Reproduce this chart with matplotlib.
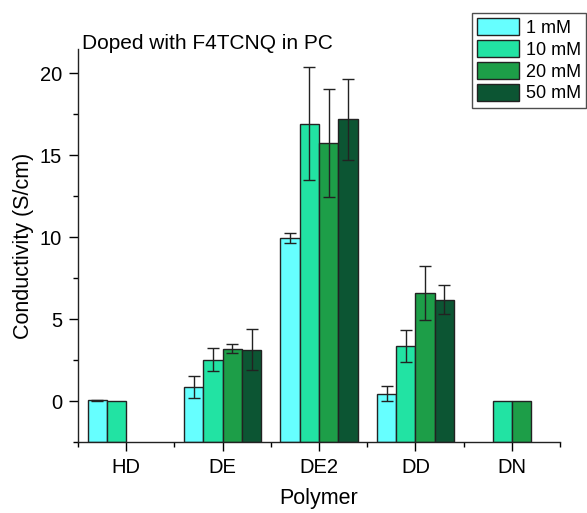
import numpy as np
import matplotlib
matplotlib.use('Agg')
import matplotlib.pyplot as plt
from matplotlib.ticker import MultipleLocator

plt.rcParams['font.family'] = ['Liberation Sans', 'DejaVu Sans']

polymers = ['HD', 'DE', 'DE2', 'DD', 'DN']
series = ['1 mM', '10 mM', '20 mM', '50 mM']

# conductivity (S/cm), nan = not measured
vals_1 = [0.05, 0.87, 9.96, 0.47, np.nan]
vals_10 = [0.0, 2.54, 16.93, 3.37, 0.0]
vals_20 = [np.nan, 3.21, 15.75, 6.60, 0.0]
vals_50 = [np.nan, 3.15, 17.20, 6.20, np.nan]

err_1 = [0.02, 0.66, 0.30, 0.46, 0]
err_10 = [0, 0.71, 3.45, 0.95, 0]
err_20 = [0, 0.28, 3.27, 1.62, 0]
err_50 = [0, 1.25, 2.47, 0.91, 0]

colors = ['#66ffff', '#22e3a3', '#1d9e48', '#0c5533']

ymin, ymax = -2.5, 21.5

fig = plt.figure(figsize=(5.87, 5.13), dpi=100)
ax = fig.add_axes([0.133, 0.138, 0.821, 0.767])

x = np.arange(len(polymers))
w = 0.2
all_vals = [vals_1, vals_10, vals_20, vals_50]
all_errs = [err_1, err_10, err_20, err_50]
handles = []
for i, (v, e, c, lab) in enumerate(zip(all_vals, all_errs, colors, series)):
    v = np.array(v, dtype=float)
    e = np.array(e, dtype=float)
    pos = x + (i - 1.5) * w
    ok = ~np.isnan(v)
    # bars start at the bottom of the axis, like the original
    b = ax.bar(pos[ok], v[ok] - ymin, bottom=ymin, width=w, color=c,
               edgecolor='#222222', linewidth=1, label=lab, zorder=2)
    handles.append(b)
    has_err = ok & (e > 0)
    ax.errorbar(pos[has_err], v[has_err], yerr=e[has_err], fmt='none',
                ecolor='#222222', elinewidth=1, capsize=4, capthick=1, zorder=3)

ax.set_xlim(-0.5, 4.5)
ax.set_ylim(ymin, ymax)
ax.set_xticks(x)
ax.set_xticklabels(polymers)
ax.xaxis.set_minor_locator(MultipleLocator(1, offset=0.5))
ax.set_yticks([0, 5, 10, 15, 20])
ax.yaxis.set_minor_locator(MultipleLocator(2.5))

for s in ['top', 'right']:
    ax.spines[s].set_visible(False)
for s in ['left', 'bottom']:
    ax.spines[s].set_linewidth(1)
    ax.spines[s].set_color('#222222')

ax.tick_params(which='major', direction='out', length=6.5, width=1, labelsize=14.5, pad=5)
ax.tick_params(which='minor', direction='out', length=3.5, width=1)

ax.set_xlabel('Polymer', fontsize=15.5, labelpad=8)
ax.set_ylabel('Conductivity (S/cm)', fontsize=15.5, labelpad=4)
ax.text(0.009, 1.0, 'Doped with F4TCNQ in PC', transform=ax.transAxes, fontsize=15,
        ha='left', va='baseline')

leg = fig.legend(handles=handles, loc='upper left', bbox_to_anchor=(472 / 587, 1 - 13 / 513),
                 borderaxespad=0, fontsize=13, frameon=True, fancybox=False,
                 edgecolor='#222222', handlelength=2.33, handleheight=1.1, borderpad=0.28,
                 labelspacing=0.17, handletextpad=0.39)
leg.get_frame().set_linewidth(1)

fig.savefig('out.png', dpi=100)
